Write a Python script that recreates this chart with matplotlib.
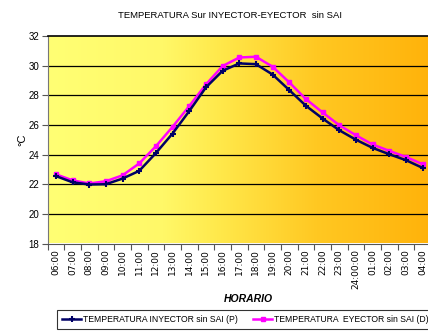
import numpy as np
import matplotlib
matplotlib.use('Agg')
import matplotlib.pyplot as plt
from matplotlib.colors import LinearSegmentedColormap

plt.rcParams['font.family'] = ['Liberation Sans', 'DejaVu Sans']

horas = ['06:00', '07:00', '08:00', '09:00', '10:00', '11:00', '12:00', '13:00',
         '14:00', '15:00', '16:00', '17:00', '18:00', '19:00', '20:00', '21:00',
         '22:00', '23:00', '24:00:00', '01:00', '02:00', '03:00', '04:00']
inyector = [22.55, 22.13, 21.98, 22.0, 22.38, 22.9, 24.1, 25.42, 26.93, 28.53,
            29.65, 30.15, 30.1, 29.4, 28.35, 27.29, 26.43, 25.64, 25.0, 24.45,
            24.02, 23.62, 23.1]
eyector = [22.67, 22.26, 22.05, 22.2, 22.6, 23.4, 24.56, 25.87, 27.27, 28.73,
           29.97, 30.55, 30.6, 29.93, 28.87, 27.74, 26.84, 25.98, 25.3, 24.68,
           24.25, 23.84, 23.35]

W, H = 428, 334
fig = plt.figure(figsize=(W / 100, H / 100), dpi=100)
# plot area runs a little past the right edge (picture is cropped)
ax = fig.add_axes([47.5 / W, 1 - 243.5 / H, (431 - 47.5) / W, (243.5 - 36) / H])

n = len(horas)
x = np.arange(n)

# yellow -> orange gradient behind the plot
cmap = LinearSegmentedColormap.from_list('fondo', [(0, '#FFFF74'), (0.3, '#FFF868'),
                                                  (0.45, '#FFE84A'), (0.7, '#FFC822'),
                                                  (1, '#FFB20A')])
grad = np.linspace(0, 1, 256).reshape(1, -1)
ax.imshow(grad, cmap=cmap, aspect='auto', extent=(-0.5, n - 0.5, 18, 32), zorder=0)

ax.set_xlim(-0.5, n - 0.5)
ax.set_ylim(18, 32)
for g in range(20, 32, 2):
    ax.axhline(g, color='black', lw=0.9, zorder=1)

ax.plot(x, inyector, color='#000066', lw=1.8, marker='+', ms=5, mew=1.5,
        label='TEMPERATURA INYECTOR sin SAI (P)', zorder=3)
ax.plot(x, eyector, color='#FF00FF', lw=1.8, marker='s', ms=3.5,
        label='TEMPERATURA  EYECTOR sin SAI (D)', zorder=2)

ax.set_yticks(range(18, 33, 2))
ax.set_yticklabels([str(v) for v in range(18, 33, 2)], fontsize=7)
ax.set_xticks(np.arange(-0.5, n, 1), minor=False)
ax.set_xticklabels([])
ax.set_xticks(x, minor=True)
ax.set_xticklabels(horas, minor=True, rotation=90, fontsize=6.5, family='DejaVu Sans')
ax.tick_params(axis='x', which='minor', length=0, pad=4)
ax.tick_params(axis='x', which='major', length=4, color='#555555', direction='out')
ax.tick_params(axis='y', length=4, color='#555555', direction='out', pad=2)

ax.spines['top'].set_color('black')
ax.spines['top'].set_linewidth(1.2)
ax.spines['right'].set_visible(False)
ax.spines['left'].set_color('#777777')
ax.spines['bottom'].set_color('#555555')

fig.text(230 / W, 1 - 15 / H, 'TEMPERATURA Sur INYECTOR-EYECTOR  sin SAI',
         ha='center', va='center', fontsize=6.8)
fig.text(22 / W, 1 - 140 / H, '°C', rotation=90, ha='center', va='center', fontsize=8)
fig.text(248 / W, 1 - 299 / H, 'HORARIO', ha='center', va='center', fontsize=7.5,
         fontweight='bold', style='italic')

leg = fig.legend(loc='lower left', bbox_to_anchor=(53 / W, 1 / H), ncol=2,
                 fontsize=6.2, frameon=True, fancybox=False, edgecolor='black',
                 handlelength=2.2, handletextpad=0.2, columnspacing=1.8,
                 borderpad=0.55)
leg.get_frame().set_linewidth(0.8)

fig.savefig('out.png', dpi=100)
